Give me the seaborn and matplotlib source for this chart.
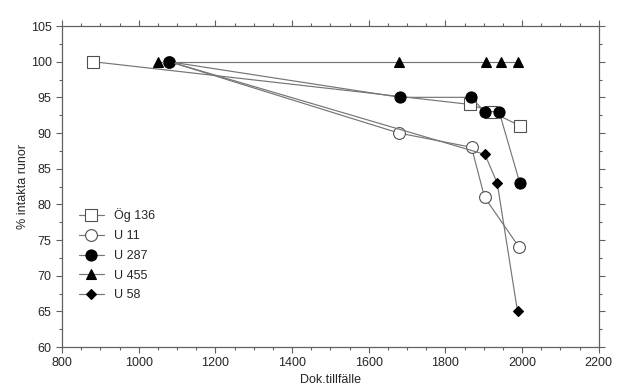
import pandas as pd
import seaborn as sns
import matplotlib.pyplot as plt
from matplotlib.ticker import MultipleLocator

# Data
og136_x = [880, 1865, 1918, 1995]
og136_y = [100, 94, 93, 91]
u11_x = [1080, 1678, 1868, 1902, 1992]
u11_y = [100, 90, 88, 81, 74]
u287_x = [1078, 1682, 1866, 1903, 1940, 1994]
u287_y = [100, 95, 95, 93, 93, 83]
u455_x = [1050, 1680, 1905, 1945, 1990]
u455_y = [100, 100, 100, 100, 100]
u58_x = [1080, 1903, 1935, 1988]
u58_y = [100, 87, 83, 65]

series = ["Ög 136", "U 11", "U 287", "U 455", "U 58"]
xs = [og136_x, u11_x, u287_x, u455_x, u58_x]
ys = [og136_y, u11_y, u287_y, u455_y, u58_y]

frames = []
for name, x, y in zip(series, xs, ys):
    frames.append(pd.DataFrame({"serie": name, "x": x, "y": y}))
df = pd.concat(frames, ignore_index=True)

sns.set_style("ticks")
plt.rcParams["font.family"] = ["Liberation Sans", "DejaVu Sans"]

styles = {
    "Ög 136": dict(marker="s", mfc="white", ms=8),
    "U 11": dict(marker="o", mfc="white", ms=8.5),
    "U 287": dict(marker="o", mfc="black", ms=8),
    "U 455": dict(marker="^", mfc="black", ms=6.5),
    "U 58": dict(marker="D", mfc="black", ms=5),
}

fig = plt.figure(figsize=(6.27, 3.91), dpi=100)
ax = fig.add_axes([0.099, 0.1125, 0.856, 0.821])

for name in series:
    st = styles[name]
    sub = df[df["serie"] == name]
    sns.lineplot(data=sub, x="x", y="y", ax=ax, sort=False, label=name,
                 color="#757575", lw=0.85, marker=st["marker"],
                 markersize=st["ms"], markerfacecolor=st["mfc"],
                 markeredgecolor="#505050" if st["mfc"] == "white" else "black",
                 markeredgewidth=0.8)

ax.set_xlim(800, 2200)
ax.set_ylim(60, 105)
ax.xaxis.set_major_locator(MultipleLocator(200))
ax.xaxis.set_minor_locator(MultipleLocator(50))
ax.yaxis.set_major_locator(MultipleLocator(5))
ax.yaxis.set_minor_locator(MultipleLocator(2.5))
ax.tick_params(which="both", direction="out", top=True, right=True,
               color="#606060", labelsize=9)
ax.tick_params(which="major", length=4, width=0.8)
ax.tick_params(which="minor", length=2.5, width=0.8)
for sp in ax.spines.values():
    sp.set_visible(True)
    sp.set_color("#606060")
    sp.set_linewidth(0.9)

ax.set_xlabel("Dok.tillfälle", fontsize=9, labelpad=3)
ax.set_ylabel("% intakta runor", fontsize=9, labelpad=1)

leg = ax.legend(loc="lower left", bbox_to_anchor=(0.01, 0.107), frameon=False,
                fontsize=9, handlelength=2.0, labelspacing=0.62,
                handletextpad=0.8)

fig.savefig("out.png", dpi=100)
